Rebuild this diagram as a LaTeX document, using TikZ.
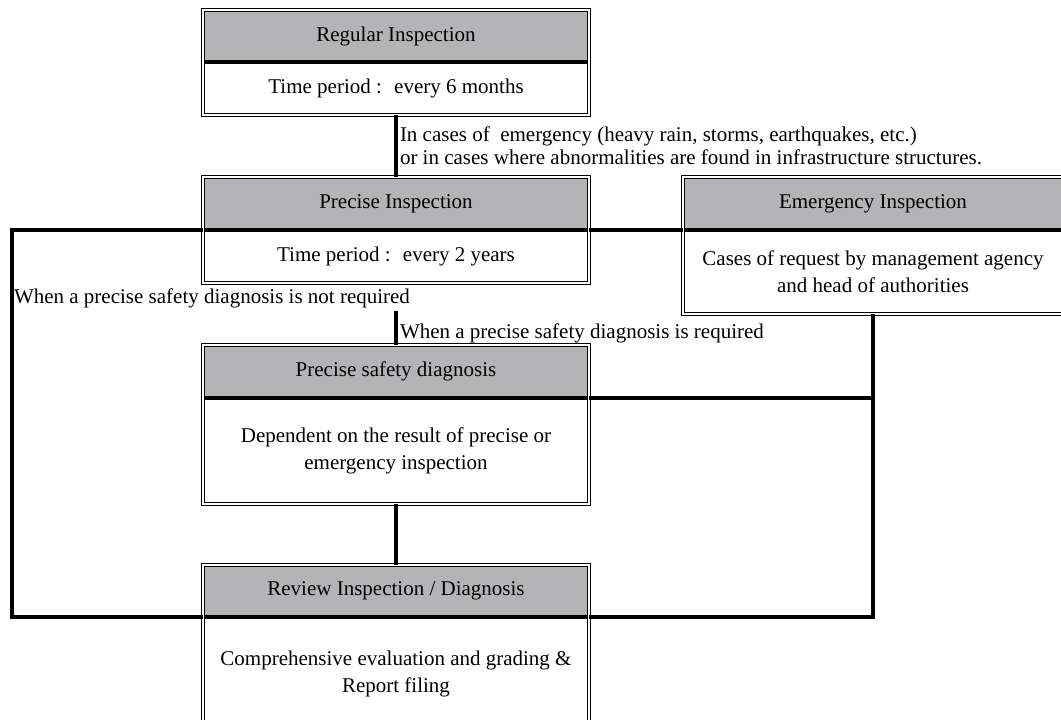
\documentclass[tikz,border=0pt]{standalone}
\usepackage{fontspec}
\setmainfont{Liberation Serif}
\definecolor{hdrgray}{RGB}{180,180,182}

\begin{document}
\begin{tikzpicture}[x=1pt,y=-1pt,
  every node/.style={font=\fontsize{21}{27}\selectfont, inner sep=0pt, outer sep=0pt},
  hdr/.style={fill=hdrgray, minimum height=53pt},
  body/.style={align=center},
  frame/.style={draw, double, double distance=1.6pt, line width=0.9pt},
  hline/.style={line width=3.5pt},
  conn/.style={line width=4.5pt}]
\useasboundingbox (0,0) rectangle (1061,720);

% boxes
\node at (396,36) [hdr, minimum width=386pt, minimum height=52pt] (regH) {Regular Inspection};
\node at (396,88.5) [body, minimum width=386pt, minimum height=53pt] (regB) {Time period :~ every 6 months};
\node at (396,203.5) [hdr, minimum width=386pt] (precH) {Precise Inspection};
\node at (396,256.5) [body, minimum width=386pt, minimum height=53pt] (precB) {Time period :~ every 2 years};
\node at (873,203.5) [hdr, minimum width=380pt] (emgH) {Emergency Inspection};
\node at (873,272) [body, minimum width=380pt, minimum height=84pt] (emgB) {Cases of request by management agency\\and head of authorities};
\node at (396,371.5) [hdr, minimum width=386pt] (diagH) {Precise safety diagnosis};
\node at (396,451) [body, minimum width=386pt, minimum height=106pt] (diagB) {Dependent on the result of precise or\\emergency inspection};
\node at (396,591) [hdr, minimum width=386pt, minimum height=52pt] (revH) {Review Inspection / Diagnosis};
\node at (396,673.5) [body, minimum width=386pt, minimum height=113pt] (revB) {Comprehensive evaluation and grading \&\\Report filing};

\draw[hline] (regH.south west) -- (regH.south east);
\draw[hline] (precH.south west) -- (precH.south east);
\draw[hline] (emgH.south west) -- (emgH.south east);
\draw[hline] (diagH.south west) -- (diagH.south east);
\draw[hline] (revH.south west) -- (revH.south east);

\draw[frame] (regH.north west) rectangle (regB.south east);
\draw[frame] (precH.north west) rectangle (precB.south east);
\draw[frame] (emgH.north west) rectangle (emgB.south east);
\draw[frame] (diagH.north west) rectangle (diagB.south east);
\draw[frame] (revH.north west) rectangle (revB.south east);

% labels
\node at (400,146) [anchor=west, align=left, font=\fontsize{21}{22.5}\selectfont] (emgcase) {In cases of ~emergency (heavy rain, storms, earthquakes, etc.)\\or in cases where abnormalities are found in infrastructure structures.};
\node at (14,298) [anchor=west] (notreq) {When a precise safety diagnosis is not required};
\node at (400,333) [anchor=west] (req) {When a precise safety diagnosis is required};

% connectors
\coordinate (lft) at (12,0);
\coordinate (reqtop) at (396,311);
\draw[conn] (regB.south) -- (precH.north);
\draw[conn] (reqtop) -- (diagH.north);
\draw[conn] (diagB.south) -- (revH.north);
\draw[conn] (precH.south east) -- (emgH.south west);
\draw[conn] (precH.south west) -- (precH.south west -| lft) |- (revH.south west);
\draw[conn] (emgB.south) -- (emgB.south |- revH.south) -- (revH.south east);
\draw[conn] (diagH.south east) -- (diagH.south east -| emgB.south);
\end{tikzpicture}
\end{document}
